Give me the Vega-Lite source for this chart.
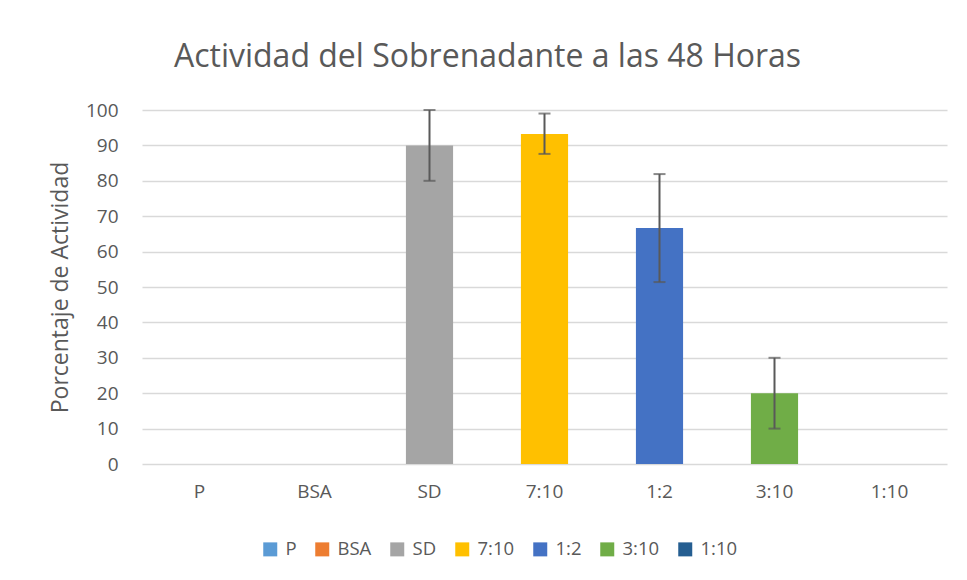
{
  "$schema": "https://vega.github.io/schema/vega-lite/v6.json",
  "autosize": {"type": "none"},
  "width": 805,
  "height": 354,
  "padding": {"left": 142, "top": 110, "right": 20, "bottom": 116},
  "background": "white",
  "config": {
    "font": "Open Sans",
    "view": {"stroke": null},
    "axis": {"labelFont": "Open Sans", "titleFont": "Open Sans", "labelColor": "#595959", "titleColor": "#595959", "labelOverlap": false, "ticks": false, "domain": false},
    "axisX": {"labelFontSize": 19, "labelPadding": 18, "labelAngle": 0, "grid": false},
    "axisY": {"labelFontSize": 19, "labelPadding": 24, "titleFontSize": 23, "titleFontWeight": "normal", "titlePadding": 13, "grid": true, "gridColor": "#d9d9d9", "gridWidth": 1.3, "labelOverlap": false, "tickCount": 11}
  },
  "title": {
    "text": "Actividad del Sobrenadante a las 48 Horas",
    "fontSize": 32,
    "font": "Open Sans",
    "fontWeight": "normal",
    "color": "#595959",
    "anchor": "middle",
    "dx": -57,
    "offset": 27
  },
  "data": {
    "values": [
      {"grupo": "P", "actividad": 0, "min": null, "max": null},
      {"grupo": "BSA", "actividad": 0, "min": null, "max": null},
      {"grupo": "SD", "actividad": 90, "min": 80, "max": 100},
      {"grupo": "7:10", "actividad": 93.2, "min": 87.6, "max": 99},
      {"grupo": "1:2", "actividad": 66.7, "min": 51.4, "max": 81.9},
      {"grupo": "3:10", "actividad": 20, "min": 10, "max": 30},
      {"grupo": "1:10", "actividad": 0, "min": null, "max": null}
    ]
  },
  "encoding": {
    "x": {
      "field": "grupo",
      "type": "nominal",
      "sort": ["P", "BSA", "SD", "7:10", "1:2", "3:10", "1:10"],
      "scale": {"paddingInner": 0.59, "paddingOuter": 0.295},
      "axis": {"title": null, "labelOverlap": false}
    }
  },
  "layer": [
    {
      "mark": {"type": "bar"},
      "encoding": {
        "y": {
          "field": "actividad",
          "type": "quantitative",
          "scale": {"domain": [0, 100], "nice": false},
          "axis": {
            "title": "Porcentaje de Actividad",
            "values": [0, 10, 20, 30, 40, 50, 60, 70, 80, 90, 100],
            "labelOverlap": false
          }
        },
        "color": {
          "field": "grupo",
          "type": "nominal",
          "sort": ["P", "BSA", "SD", "7:10", "1:2", "3:10", "1:10"],
          "scale": {
            "domain": ["P", "BSA", "SD", "7:10", "1:2", "3:10", "1:10"],
            "range": ["#5b9bd5", "#ed7d31", "#a5a5a5", "#ffc000", "#4472c4", "#70ad47", "#255e91"]
          },
          "legend": {
            "title": null,
            "orient": "none",
            "direction": "horizontal",
            "legendX": 119,
            "legendY": 430,
            "symbolType": "square",
            "symbolSize": 196,
            "symbolStrokeWidth": 0,
            "labelFontSize": 18.5,
            "labelColor": "#595959",
            "labelFont": "Open Sans",
            "columnPadding": 16,
            "labelOffset": 6
          }
        }
      }
    },
    {
      "mark": {"type": "rule", "color": "#595959", "strokeWidth": 2},
      "encoding": {
        "y": {"field": "min", "type": "quantitative"},
        "y2": {"field": "max"}
      }
    },
    {
      "mark": {"type": "tick", "color": "#595959", "size": 12, "thickness": 2},
      "encoding": {
        "y": {"field": "min", "type": "quantitative"}
      }
    },
    {
      "mark": {"type": "tick", "color": "#595959", "size": 12, "thickness": 2},
      "encoding": {
        "y": {"field": "max", "type": "quantitative"}
      }
    }
  ]
}
